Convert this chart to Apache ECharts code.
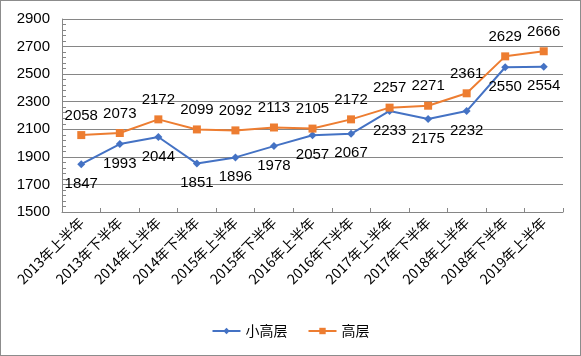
<!DOCTYPE html>
<html><head><meta charset="utf-8">
<script src="https://cdn.jsdelivr.net/npm/echarts@6/dist/echarts.min.js"></script>
<style>html,body{margin:0;padding:0;background:#fff}
#c{width:581px;height:356px;box-sizing:border-box;border:1px solid #8c8c8c}</style>
</head><body><div id="c"></div>
<script>
const categories = ['2013年上半年','2013年下半年','2014年上半年','2014年下半年','2015年上半年','2015年下半年','2016年上半年','2016年下半年','2017年上半年','2017年下半年','2018年上半年','2018年下半年','2019年上半年'];
const smallHigh = [1847,1993,2044,1851,1896,1978,2057,2067,2233,2175,2232,2550,2554];
const high = [2058,2073,2172,2099,2092,2113,2105,2172,2257,2271,2361,2629,2666];
const yTicks = [1500,1700,1900,2100,2300,2500,2700,2900];
const font = '"Liberation Sans","Noto Sans CJK SC",sans-serif';
const chart = echarts.init(document.getElementById('c'));
chart.setOption({
  animation:false,
  textStyle:{fontFamily:font},
  grid:{left:61,right:17,top:18,bottom:143,containLabel:false},
  legend:{bottom:12,left:'center',itemWidth:28,itemHeight:8,itemGap:20,
    textStyle:{fontSize:14,color:'#000',fontFamily:'"Noto Sans CJK SC",sans-serif'},
    data:['小高层','高层']},
  xAxis:{type:'category',data:categories,boundaryGap:true,
    axisLine:{lineStyle:{color:'#868686'}},
    axisTick:{show:true,inside:true,length:4,lineStyle:{color:'#868686'}},
    axisLabel:{rotate:45,fontSize:14,color:'#000',margin:8,interval:0,fontFamily:'"Noto Sans CJK SC",sans-serif'}},
  yAxis:{type:'value',min:yTicks[0],max:yTicks[yTicks.length-1],interval:200,
    axisLine:{show:true,lineStyle:{color:'#868686'}},
    axisTick:{show:true,inside:true,length:4,lineStyle:{color:'#868686'}},
    minorTick:{show:true,splitNumber:5,length:4,lineStyle:{color:'#868686'}},
    splitLine:{lineStyle:{color:'#868686'}},
    axisLabel:{fontSize:15,color:'#000',margin:12,formatter:v=>String(v)}},
  series:[
    {name:'小高层',type:'line',data:smallHigh,symbol:'diamond',symbolSize:8,
     itemStyle:{color:'#4472C4'},lineStyle:{width:2,color:'#4472C4'},
     label:{show:true,position:'bottom',distance:8,fontSize:15,color:'#000'}},
    {name:'高层',type:'line',data:high,symbol:'rect',symbolSize:8,
     itemStyle:{color:'#ED7D31'},lineStyle:{width:2,color:'#ED7D31'},
     label:{show:true,position:'top',distance:8,fontSize:15,color:'#000'}}
  ]
});
</script></body></html>
